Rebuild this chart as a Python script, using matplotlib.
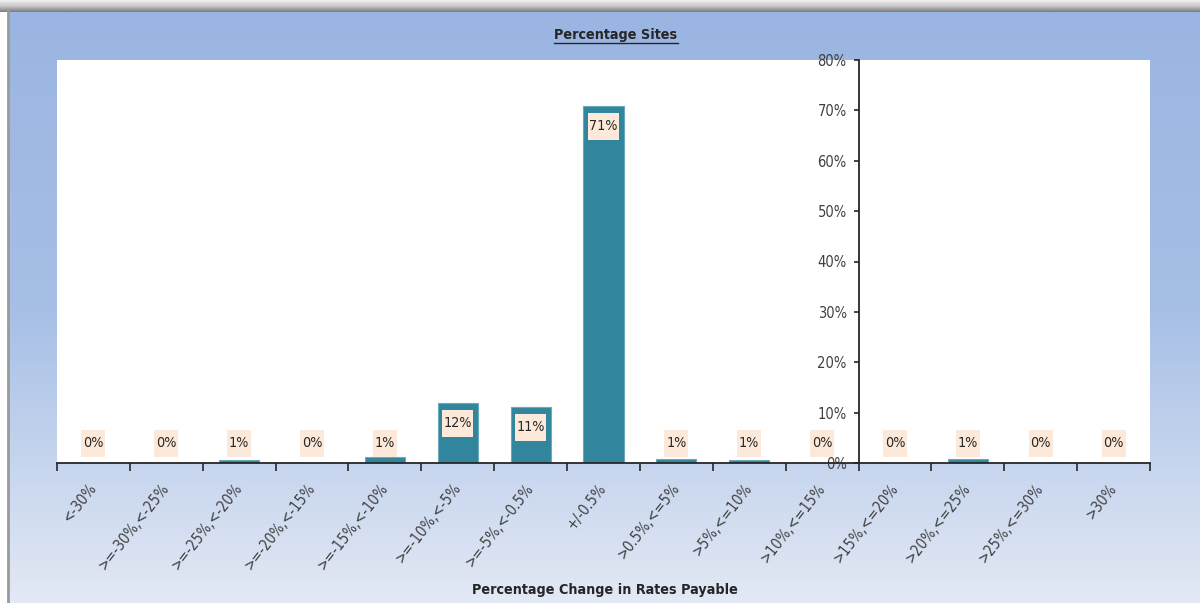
import numpy as np
import matplotlib
matplotlib.use("Agg")
import matplotlib.pyplot as plt
from matplotlib import font_manager as fm
from matplotlib.colors import LinearSegmentedColormap
from matplotlib.lines import Line2D
from matplotlib.patches import Rectangle
from matplotlib.transforms import IdentityTransform

categories = ["<-30%", ">=-30%,<-25%", ">=-25%,<-20%", ">=-20%,<-15%", ">=-15%,<-10%",
              ">=-10%,<-5%", ">=-5%,<-0.5%", "+/-0.5%", ">0.5%,<=5%", ">5%,<=10%",
              ">10%,<=15%", ">15%,<=20%", ">20%,<=25%", ">25%,<=30%", ">30%"]
values = [0.0, 0.0, 0.5, 0.0, 1.2, 11.9, 11.1, 70.8, 0.7, 0.6, 0.0, 0.0, 0.8, 0.0, 0.0]
labels = ["0%", "0%", "1%", "0%", "1%", "12%", "11%", "71%", "1%", "1%", "0%", "0%", "1%", "0%", "0%"]
yticks = [0, 10, 20, 30, 40, 50, 60, 70, 80]
ytick_labels = ["0%", "10%", "20%", "30%", "40%", "50%", "60%", "70%", "80%"]

# pick a narrow font if one is installed
names = {(f.name, str(f.stretch)) for f in fm.fontManager.ttflist}
allnames = {f.name for f in fm.fontManager.ttflist}
FAM = "Liberation Sans"
STRETCH = "normal"
narrow = False
if "Liberation Sans Narrow" in allnames:
    FAM, narrow = "Liberation Sans Narrow", True
elif "DejaVu Sans Condensed" in allnames:
    FAM, narrow = "DejaVu Sans Condensed", True
elif any(n == "DejaVu Sans" and s in ("condensed", "semi-condensed", "75", "87.5") for n, s in names):
    FAM, STRETCH, narrow = "DejaVu Sans", "condensed", True
plt.rcParams['font.family'] = [FAM, "DejaVu Sans"]
plt.rcParams['font.stretch'] = STRETCH
SC = 1.0 if narrow else 0.9

W, H = 1200, 603
fig = plt.figure(figsize=(W / 100, H / 100), dpi=100, facecolor="white")

# Background gradient
bg = fig.add_axes([8 / W, 0, 1 - 8 / W, (H - 12) / H])
cmap = LinearSegmentedColormap.from_list("bg", ["#9BB5E2", "#A6BFE6", "#E3E9F5"])
grad = np.linspace(0, 1, 256).reshape(-1, 1)
bg.imshow(grad, aspect="auto", cmap=cmap, extent=[0, 1, 0, 1], origin="upper")
bg.set_axis_off()

# top shadow strip
sh = fig.add_axes([0, (H - 12) / H, 1, 12 / H])
shcmap = LinearSegmentedColormap.from_list("sh", ["#F2F2F2", "#C8C8C8", "#7A7A7A"])
sh.imshow(grad, aspect="auto", cmap=shcmap, extent=[0, 1, 0, 1], origin="upper")
sh.set_axis_off()
fig.add_artist(Line2D([7.5 / W, 7.5 / W], [0, (H - 11) / H], transform=fig.transFigure,
                      color="#9A9A9A", lw=2))

# Plot area
x0, x1 = 57, 1150
y0, y1 = 60, 463
ax = fig.add_axes([x0 / W, 1 - y1 / H, (x1 - x0) / W, (y1 - y0) / H])
ax.set_facecolor("white")
x = np.arange(len(categories))
ax.bar(x, values, width=0.55, color="#31859C", edgecolor="#6AAABB", linewidth=0.8, zorder=2)
ax.set_xlim(-0.5, len(categories) - 0.5)
ax.set_ylim(0, 80)

for s in ["top", "right"]:
    ax.spines[s].set_visible(False)
ax.spines["left"].set_position(("data", 10.5))
for s in ["left", "bottom"]:
    ax.spines[s].set_color("#262626")
    ax.spines[s].set_linewidth(1.3)

ax.set_yticks(yticks)
ax.set_yticklabels(ytick_labels)
ax.tick_params(axis="y", direction="out", length=3.5, width=1.2, color="#262626",
               labelsize=10.5 * SC, labelcolor="#404040", pad=5)

ax.set_xticks(x)
ax.set_xticklabels(categories, rotation=52, ha="right", rotation_mode="anchor")
ax.set_xticks(np.arange(-0.5, len(categories)), minor=True)
ax.tick_params(axis="x", which="major", length=0, labelsize=10.5 * SC, labelcolor="#404040", pad=16)
ax.tick_params(axis="x", which="minor", direction="out", length=6, width=1.2, color="#262626")
for lab in ax.get_xticklabels():
    lab.set_va("center")

# data labels with peach boxes (box drawn in pixel units)
for xi, v, lab in zip(x, values, labels):
    if v > 8:
        yy, off = v, -20
    else:
        yy, off = 0, 20
    px, py = ax.transData.transform((xi, yy))
    py += off
    bw = 24 if len(lab) == 2 else 31
    bh = 27
    rect = Rectangle((px - bw / 2, py - bh / 2), bw, bh, transform=IdentityTransform(),
                     facecolor="#FDE9D9", edgecolor="none", zorder=5, clip_on=False)
    ax.add_artist(rect)
    ax.annotate(lab, (xi, yy), xytext=(0, off), textcoords="offset pixels",
                ha="center", va="center", fontsize=10.3 * SC, color="#262626", zorder=6,
                annotation_clip=False)

title = fig.text(616 / W, 1 - 35 / H, "Percentage Sites", ha="center", va="center",
                 fontsize=10.3 * SC, fontweight="bold", color="#262626")
fig.text(605 / W, 1 - 590 / H, "Percentage Change in Rates Payable", ha="center", va="center",
         fontsize=10.3 * SC, fontweight="bold", color="#262626")

fig.canvas.draw()
bb = title.get_window_extent(renderer=fig.canvas.get_renderer())
uy = (bb.y0 - 1) / H
fig.add_artist(Line2D([bb.x0 / W, bb.x1 / W], [uy, uy], transform=fig.transFigure,
                      color="#262626", lw=1.0))

fig.savefig("out.png", dpi=100, facecolor="white")
